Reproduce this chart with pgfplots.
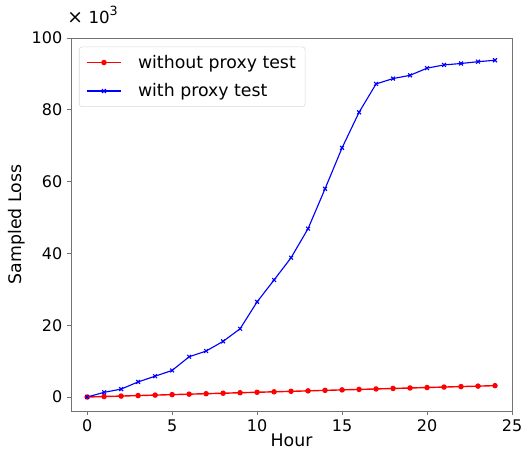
\documentclass[border=0pt]{standalone}
\usepackage{fontspec}
\setmainfont{DejaVu Sans}
\usepackage{pgfplots}
\pgfplotsset{compat=1.18}

\begin{document}
\begin{tikzpicture}
% page size = 524x450 px at 0.75pt/px
\path[use as bounding box] (-53.25pt,-29.25pt) rectangle (339.75pt,308.25pt);
\begin{axis}[
  at={(0pt,0pt)}, anchor=south west,
  scale only axis,
  width=330.75pt, height=279.75pt,
  xmin=-0.95, xmax=25,
  ymin=-3900, ymax=100000,
  xtick={0,5,10,15,20,25},
  ytick={0,20000,40000,60000,80000,100000},
  scaled y ticks=base 10:-3,
  ytick scale label code/.code={{\fontsize{14}{16}\selectfont ×\hspace{0.3em}\fontsize{12.5}{14}\selectfont 10\raisebox{0.5em}{\fontsize{9.5}{11}\selectfont 3}}},
  every y tick scale label/.style={at={(axis description cs:0,1)}, anchor=base west,
    inner sep=0pt, xshift=-3pt, yshift=10.5pt},
  /pgf/number format/assume math mode=true,
  tick label style={font=\fontsize{12}{14}\selectfont},
  label style={font=\fontsize{13}{15}\selectfont},
  xlabel={Hour},
  ylabel={Sampled Loss},
  xlabel style={at={(axis description cs:0.5,0)}, anchor=base, yshift=-26.5pt},
  ylabel style={at={([xshift=-36.75pt]axis description cs:0,0.5)}, anchor=base},
  axis line style={black!55, line width=0.6pt},
  tick style={black!55, line width=0.6pt},
  tick align=outside, tick pos=left,
  major tick length=3pt,
  legend cell align=left,
  legend image code/.code={%
    \draw[mark repeat=2, mark phase=2, #1] plot coordinates {(0pt,0pt) (13pt,0pt) (26pt,0pt)};},
  legend style={at={(axis description cs:0,1)}, anchor=north west,
    xshift=6pt, yshift=-6.5pt, draw=black!15, rounded corners=2pt,
    font=\fontsize{13}{15}\selectfont, inner xsep=5pt, inner ysep=4pt,
    row sep=6pt,
    /tikz/every odd column/.append style={column sep=10pt}},
]

\addplot[color=red, line width=1.05pt, mark=*, mark size=1.5pt]
  coordinates {
  (0,0)(1,130)(2,260)(3,400)(4,530)(5,660)(6,790)(7,920)(8,1050)
  (9,1190)(10,1320)(11,1450)(12,1580)(13,1710)(14,1850)(15,1980)
  (16,2110)(17,2240)(18,2380)(19,2510)(20,2640)(21,2770)(22,2900)
  (23,3030)(24,3160)
  };

\addplot[color=blue, line width=0.85pt, mark=x, mark size=2pt]
  coordinates {
  (0,0)(1,1300)(2,2200)(3,4200)(4,5800)(5,7400)(6,11200)(7,12800)
  (8,15500)(9,19000)(10,26500)(11,32600)(12,38800)(13,46900)(14,58000)
  (15,69400)(16,79300)(17,87200)(18,88700)(19,89600)(20,91600)
  (21,92500)(22,92900)(23,93400)(24,93800)
  };

\legend{without proxy test, with proxy test}
\end{axis}
\end{tikzpicture}
\end{document}
